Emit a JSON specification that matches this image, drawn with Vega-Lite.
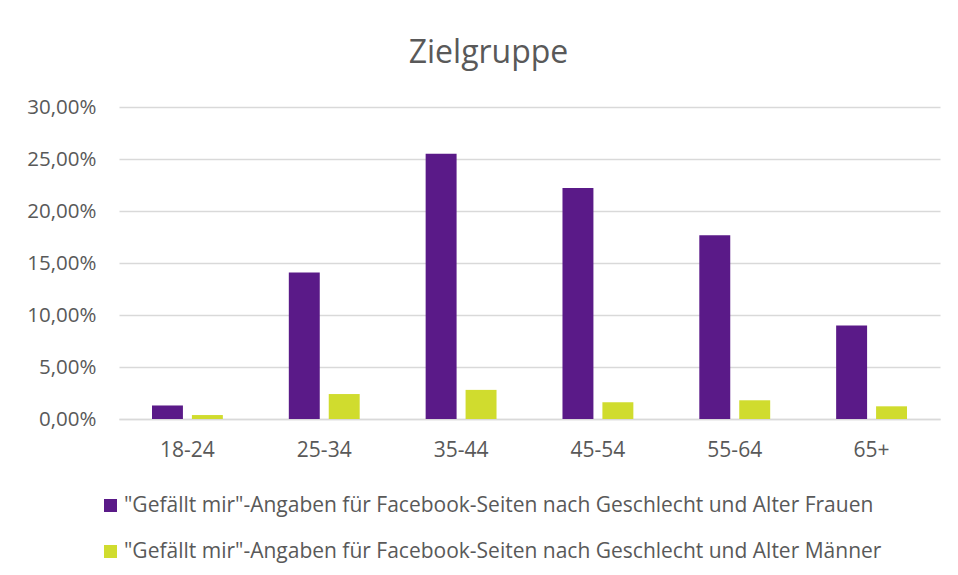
{
  "$schema": "https://vega.github.io/schema/vega-lite/v6.json",
  "width": 821,
  "height": 312,
  "autosize": {"type": "none"},
  "padding": {"left": 119, "top": 107, "right": 18, "bottom": 156},
  "background": "white",
  "title": {
    "text": "Zielgruppe",
    "anchor": "middle",
    "frame": "group",
    "dx": -41,
    "offset": 27,
    "font": "Open Sans",
    "fontSize": 32,
    "fontWeight": "normal",
    "color": "#595959"
  },
  "data": {
    "values": [
      {"age": "18-24", "series": "\"Gefällt mir\"-Angaben für Facebook-Seiten nach Geschlecht und Alter Frauen", "value": 0.013},
      {"age": "18-24", "series": "\"Gefällt mir\"-Angaben für Facebook-Seiten nach Geschlecht und Alter Männer", "value": 0.0038},
      {"age": "25-34", "series": "\"Gefällt mir\"-Angaben für Facebook-Seiten nach Geschlecht und Alter Frauen", "value": 0.1408},
      {"age": "25-34", "series": "\"Gefällt mir\"-Angaben für Facebook-Seiten nach Geschlecht und Alter Männer", "value": 0.024},
      {"age": "35-44", "series": "\"Gefällt mir\"-Angaben für Facebook-Seiten nach Geschlecht und Alter Frauen", "value": 0.255},
      {"age": "35-44", "series": "\"Gefällt mir\"-Angaben für Facebook-Seiten nach Geschlecht und Alter Männer", "value": 0.028},
      {"age": "45-54", "series": "\"Gefällt mir\"-Angaben für Facebook-Seiten nach Geschlecht und Alter Frauen", "value": 0.222},
      {"age": "45-54", "series": "\"Gefällt mir\"-Angaben für Facebook-Seiten nach Geschlecht und Alter Männer", "value": 0.016},
      {"age": "55-64", "series": "\"Gefällt mir\"-Angaben für Facebook-Seiten nach Geschlecht und Alter Frauen", "value": 0.1766},
      {"age": "55-64", "series": "\"Gefällt mir\"-Angaben für Facebook-Seiten nach Geschlecht und Alter Männer", "value": 0.018},
      {"age": "65+", "series": "\"Gefällt mir\"-Angaben für Facebook-Seiten nach Geschlecht und Alter Frauen", "value": 0.0898},
      {"age": "65+", "series": "\"Gefällt mir\"-Angaben für Facebook-Seiten nach Geschlecht und Alter Männer", "value": 0.0122}
    ]
  },
  "mark": {"type": "bar"},
  "encoding": {
    "x": {
      "field": "age",
      "type": "nominal",
      "sort": null,
      "scale": {"paddingInner": 0.482, "paddingOuter": 0.241},
      "axis": {
        "title": null,
        "labelAngle": 0,
        "ticks": false,
        "domain": true,
        "domainColor": "#d9d9d9",
        "domainWidth": 1.5,
        "labelPadding": 20,
        "labelFont": "Open Sans",
        "labelFontSize": 21,
        "labelColor": "#595959"
      }
    },
    "xOffset": {
      "field": "series",
      "type": "nominal",
      "scale": {"paddingInner": 0.225, "paddingOuter": 0}
    },
    "y": {
      "field": "value",
      "type": "quantitative",
      "scale": {"domain": [0, 0.3], "nice": false},
      "axis": {
        "title": null,
        "values": [0, 0.05, 0.1, 0.15, 0.2, 0.25, 0.3],
        "labelExpr": "replace(format(datum.value, '.2%'), '.', ',')",
        "domain": false,
        "ticks": false,
        "grid": true,
        "gridColor": "#d9d9d9",
        "gridWidth": 1.3,
        "labelPadding": 23,
        "labelFont": "Open Sans",
        "labelFontSize": 20.5,
        "labelColor": "#595959"
      }
    },
    "color": {
      "field": "series",
      "type": "nominal",
      "scale": {
        "domain": [
          "\"Gefällt mir\"-Angaben für Facebook-Seiten nach Geschlecht und Alter Frauen",
          "\"Gefällt mir\"-Angaben für Facebook-Seiten nach Geschlecht und Alter Männer"
        ],
        "range": ["#5a1a88", "#d0dc2e"]
      },
      "legend": {
        "title": null,
        "orient": "none",
        "direction": "vertical",
        "legendX": -19,
        "legendY": 388,
        "symbolType": "square",
        "symbolSize": 169,
        "symbolStrokeWidth": 0,
        "symbolOpacity": 1,
        "labelFont": "Open Sans",
        "labelFontSize": 21,
        "labelColor": "#595959",
        "labelLimit": 900,
        "labelOffset": 3,
        "rowPadding": 24
      }
    }
  },
  "config": {
    "view": {"stroke": null}
  }
}
